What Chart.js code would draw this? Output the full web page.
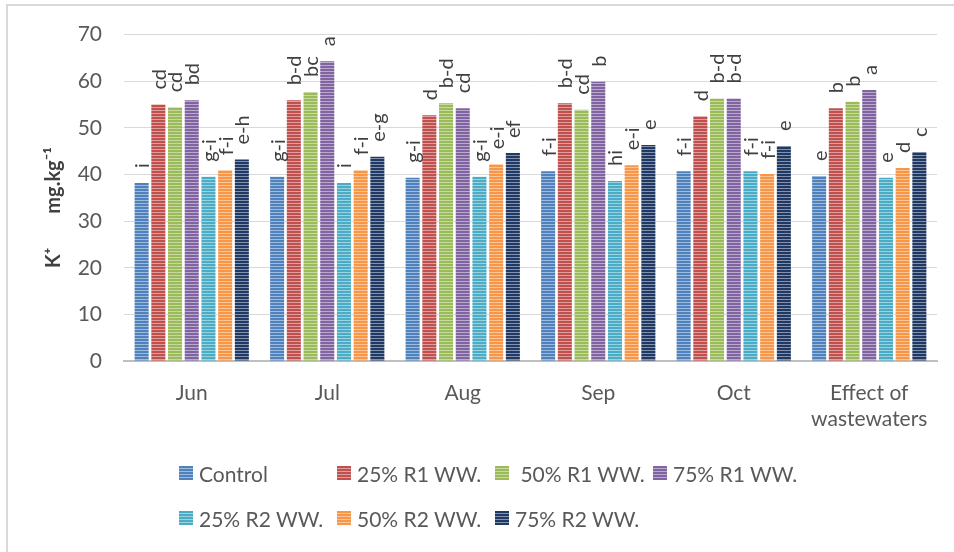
<!DOCTYPE html>
<html>
<head>
<meta charset="utf-8">
<script src="https://cdn.jsdelivr.net/npm/chart.js@4.4.1/dist/chart.umd.min.js"></script>
<style>
  html, body { margin: 0; padding: 0; background: #fff; }
  #wrap { position: relative; width: 954px; height: 552px; overflow: hidden; font-family: Lato, "Open Sans", sans-serif; }
  #frame { position: absolute; left: 6px; top: 4px; width: 1000px; height: 600px; border-left: 2px solid #d9d9d9; border-top: 2px solid #d9d9d9; }
  canvas { position: absolute; left: 0; top: 0; }
  .lg { position: absolute; display: flex; align-items: center; font-size: 21px; color: #595959; white-space: pre; }
  .lg i { display: inline-block; width: 14px; height: 14px; margin-right: 6px; }
</style>
</head>
<body>
<div id="wrap">
  <div id="frame"></div>
  <canvas id="Grafico" width="954" height="552"></canvas>
  <div id="legend"></div>
</div>
<script>
// dados
const categorias = ['Jun', 'Jul', 'Aug', 'Sep', 'Oct', ['Effect of', 'wastewaters']];
const series = ['Control', '25% R1 WW.', '50% R1 WW.', '75% R1 WW.', '25% R2 WW.', '50% R2 WW.', '75% R2 WW.'];
const cores = ['#4f81bd', '#c0504d', '#9bbb59', '#8064a2', '#4bacc6', '#f79646', '#1f3864'];

const control = [38.2, 39.5, 39.3, 40.7, 40.7, 39.7];
const r1_25 = [55.0, 55.9, 52.7, 55.3, 52.5, 54.2];
const r1_50 = [54.4, 57.7, 55.3, 53.9, 56.3, 55.6];
const r1_75 = [55.9, 64.3, 54.2, 59.9, 56.3, 58.1];
const r2_25 = [39.5, 38.2, 39.5, 38.6, 40.7, 39.3];
const r2_50 = [40.9, 40.9, 42.2, 42.0, 40.1, 41.4];
const r2_75 = [43.2, 43.8, 44.6, 46.3, 46.1, 44.8];

// letras de significância
const let_control = ['i', 'g-i', 'g-i', 'f-i', 'f-i', 'e'];
const let_r1_25 = ['cd', 'b-d', 'd', 'b-d', 'd', 'b'];
const let_r1_50 = ['cd', 'bc', 'b-d', 'cd', 'b-d', 'b'];
const let_r1_75 = ['bd', 'a', 'cd', 'b', 'b-d', 'a'];
const let_r2_25 = ['g-i', 'i', 'g-i', 'hi', 'f-i', 'e'];
const let_r2_50 = ['f-i', 'f-i', 'e-i', 'e-i', 'f-i', 'd'];
const let_r2_75 = ['e-h', 'e-g', 'ef', 'e', 'e', 'c'];

const yTicks = [0, 10, 20, 30, 40, 50, 60, 70];

const valores = [control, r1_25, r1_50, r1_75, r2_25, r2_50, r2_75];
const letras = [let_control, let_r1_25, let_r1_50, let_r1_75, let_r2_25, let_r2_50, let_r2_75];

function clarear(hex, t) {
    const n = parseInt(hex.slice(1), 16);
    const r = n >> 16, g = (n >> 8) & 255, b = n & 255;
    const m = c => Math.round(c + (255 - c) * t);
    return 'rgb(' + m(r) + ',' + m(g) + ',' + m(b) + ')';
}

function listrado(cor) {
    const c = document.createElement('canvas');
    c.width = 4; c.height = 3;
    const x = c.getContext('2d');
    x.fillStyle = cor;
    x.fillRect(0, 0, 4, 3);
    x.fillStyle = clarear(cor, 0.45);
    x.fillRect(0, 2, 4, 1);
    return x.createPattern(c, 'repeat');
}

const letrasPlugin = {
    id: 'letras',
    afterDatasetsDraw(chart) {
        const ctx = chart.ctx;
        ctx.save();
        ctx.font = '20px Lato, "Open Sans", sans-serif';
        ctx.fillStyle = '#404040';
        ctx.textAlign = 'left';
        ctx.textBaseline = 'middle';
        chart.data.datasets.forEach((ds, i) => {
            chart.getDatasetMeta(i).data.forEach((bar, j) => {
                ctx.save();
                ctx.translate(bar.x + 1, bar.y - 15);
                ctx.rotate(-Math.PI / 2);
                ctx.fillText(letras[i][j], 0, 0);
                ctx.restore();
            });
        });
        ctx.restore();
    }
};

const ctx = document.getElementById('Grafico').getContext('2d');
const fonte = 'Lato, "Open Sans", sans-serif';

const meuGrafico = new Chart(ctx, {
    type: 'bar',
    data: {
        labels: categorias,
        datasets: series.map((s, i) => ({
            label: s,
            data: valores[i],
            backgroundColor: listrado(cores[i]),
            borderWidth: 0,
            categoryPercentage: 0.863,
            barPercentage: 0.84
        }))
    },
    options: {
        responsive: false,
        animation: false,
        devicePixelRatio: 1,
        layout: { padding: { left: 30, top: 33, right: 17, bottom: 111 } },
        plugins: {
            legend: { display: false },
            tooltip: { enabled: false }
        },
        scales: {
            x: {
                grid: { display: false },
                border: { color: '#bfbfbf', width: 2 },
                ticks: { color: '#595959', font: { family: fonte, size: 21 }, padding: 12, maxRotation: 0 },
                afterFit: s => { s.height = 80; }
            },
            y: {
                min: 0,
                max: 70,
                afterBuildTicks: s => { s.ticks = yTicks.map(v => ({ value: v })); },
                grid: { color: '#d9d9d9', lineWidth: 1, drawTicks: false },
                border: { display: false },
                ticks: { color: '#595959', font: { family: fonte, size: 21 }, padding: 22 },
                title: {
                    display: true,
                    text: 'K\u207A       mg.kg\u207B\u00B9    ',
                    color: '#404040',
                    font: { family: fonte, size: 20, weight: 'bold' },
                    padding: { top: 12, bottom: 0 }
                },
                afterFit: s => { s.width = 94; }
            }
        }
    },
    plugins: [letrasPlugin]
});

// legenda em HTML
const posLegenda = [[179, 473], [337, 473], [495, 473], [653, 473], [179, 518], [337, 518], [495, 518]];
const textoLegenda = ['Control', '25% R1 WW.', ' 50% R1 WW.', '75% R1 WW.', '25% R2 WW.', '50% R2 WW.', '75% R2 WW.'];
const leg = document.getElementById('legend');
series.forEach((s, i) => {
    const d = document.createElement('div');
    d.className = 'lg';
    d.style.left = posLegenda[i][0] + 'px';
    d.style.top = (posLegenda[i][1] - 14) + 'px';
    d.style.height = '28px';
    const box = document.createElement('i');
    box.style.background = 'repeating-linear-gradient(to bottom, ' + cores[i] + ' 0px, ' + cores[i] + ' 2px, ' + clarear(cores[i], 0.45) + ' 2px, ' + clarear(cores[i], 0.45) + ' 3px)';
    d.appendChild(box);
    d.appendChild(document.createTextNode(textoLegenda[i]));
    leg.appendChild(d);
});
</script>
</body>
</html>
